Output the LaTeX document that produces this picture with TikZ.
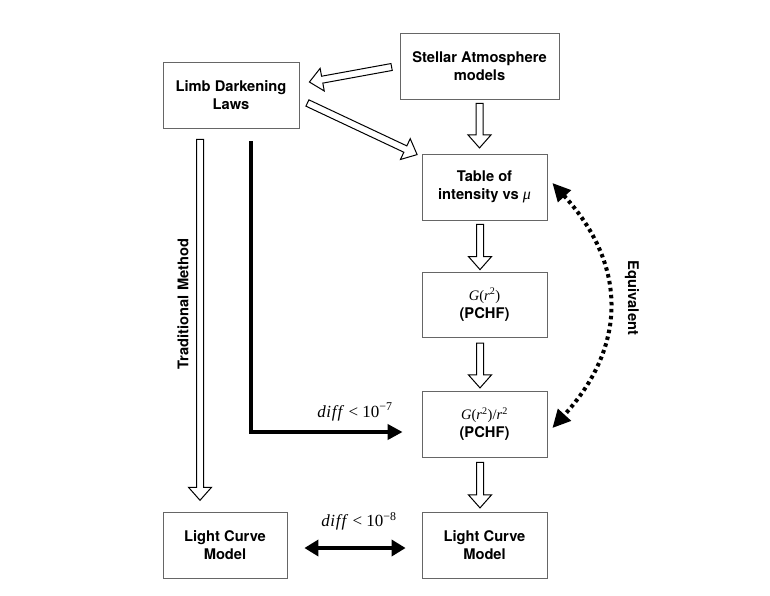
\documentclass[tikz,border=0pt]{standalone}
\usepackage{fontspec}
\setmainfont{TeX Gyre Heros}
\newfontfamily\tms{Liberation Serif}
\usetikzlibrary{calc,arrows.meta}
\newcommand\hollowarr[2]{%
  \coordinate (hS) at (#1);
  \coordinate (hE) at (#2);
  \coordinate (hH) at ($(hE)!13pt!(hS)$);
  \draw[hollow] ($(hS)!3.5pt!90:(hE)$) -- ($(hH)!3.5pt!90:(hE)$) -- ($(hH)!11.5pt!90:(hE)$) -- (hE)
    -- ($(hH)!11.5pt!-90:(hE)$) -- ($(hH)!3.5pt!-90:(hE)$) -- ($(hS)!3.5pt!-90:(hE)$) -- cycle;}
\begin{document}
\begin{tikzpicture}[x=1pt,y=-1pt,
  box/.style={draw=black!60, line width=0.8pt, minimum height=66pt, inner sep=0pt,
    align=center, font=\fontsize{14.7}{18}\selectfont\bfseries},
  hollow/.style={draw=black, line width=1pt, fill=white, line join=miter},
  lbl/.style={font=\fontsize{14.7}{18}\selectfont\bfseries, inner sep=0pt},
  mth/.style={font=\tms\fontsize{17}{18}\selectfont, inner sep=0pt},
  bigtip/.tip={Triangle[length=15pt,width=15pt]},
  eqtip/.tip={Triangle[length=18pt,width=17pt]}]
\useasboundingbox (0,0) rectangle (770,595);
\node[box, minimum width=159pt] (stellar) at (479.5,66) {Stellar Atmosphere\\models};
\node[box, minimum width=136pt] (limb) at (231,95) {Limb Darkening\\Laws};
\node[box, minimum width=125pt] (table) at (484.5,187) {Table of\\intensity vs {\tms\mdseries\fontsize{16}{18}\selectfont\textit{μ}}};
\node[box, minimum width=125pt, minimum height=65pt] (g) at (484.5,304.5) {{\tms\mdseries\fontsize{14.5}{18}\selectfont\textit{G}(\textit{r}\textsuperscript{2})}\\(PCHF)};
\node[box, minimum width=125pt] (gr) at (484.5,424) {{\tms\mdseries\fontsize{14.5}{18}\selectfont\textit{G}(\textit{r}\textsuperscript{2})/\textit{r}\textsuperscript{2}}\\(PCHF)};
\node[box, minimum width=125pt] (lcr) at (484.5,545) {Light Curve\\Model};
\node[box, minimum width=124pt] (lcl) at (225,545) {Light Curve\\Model};
% hollow arrows
\hollowarr{$(stellar.west)+(-8,1)$}{$(limb.east)+(10,-13)$}
\hollowarr{$(limb.east)+(8,8)$}{$(table.north west)+(-4.5,1)$}
\hollowarr{$(stellar.south)+(0,4)$}{$(table.north)+(-5,-5.7)$}
\hollowarr{$(table.south)+(-4.5,4)$}{$(g.north)+(-4.5,-2)$}
\hollowarr{$(g.south)+(-4.5,5.7)$}{$(gr.north)+(-4.5,-2.7)$}
\hollowarr{$(gr.south)+(-4.5,5)$}{$(lcr.north)+(-4.5,-3.7)$}
\hollowarr{$(limb.south)+(-31,11)$}{$(lcl.north)+(-25,-11.3)$}
% labels
\node[lbl, rotate=90] (trad) at (183,304) {Traditional Method};
\node[lbl, rotate=-90] (equiv) at (632,298) {Equivalent};
\node[mth] (d7) at (355,412) {\textit{d\kern0.6pt i\kern0.6pt f\kern1.2pt f} < 10\textsuperscript{−7}};
\node[mth] (d8) at (359,521) {\textit{d\kern0.6pt i\kern0.6pt f\kern1.2pt f} < 10\textsuperscript{−8}};
% black connectors
\draw[line width=4pt, line join=miter, -{bigtip}] ($(limb.south)+(20,13)$) |- ($(gr.west)+(-19,8)$);
\draw[line width=4pt, {Triangle[length=14pt,width=16pt]}-{Triangle[length=14pt,width=16pt]}]
  ($(lcl.east)+(17,3)$) -- ($(lcr.west)+(-16,3)$);
\coordinate (eqa) at ($(table.east)+(5,-4)$);
\coordinate (eqb) at ($(gr.east)+(5,4)$);
\draw[line width=4pt, dash pattern=on 3.5pt off 3.5pt, {eqtip}-{eqtip}]
  (eqa) .. controls +(75,82) and +(75,-82) .. (eqb);
\end{tikzpicture}
\end{document}
